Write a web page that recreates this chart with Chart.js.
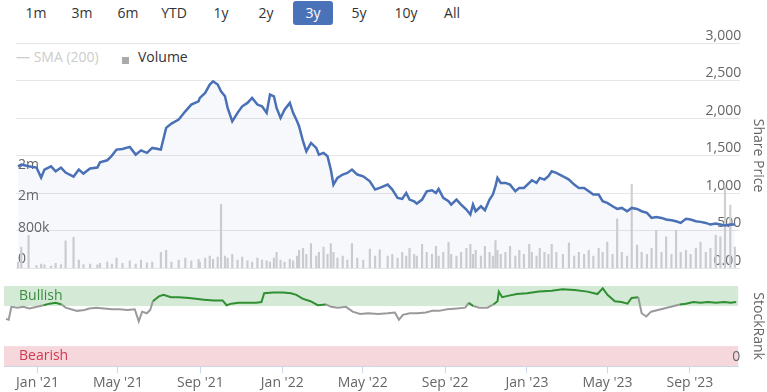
<!DOCTYPE html>
<html>
<head>
<meta charset="utf-8">
<script src="https://cdn.jsdelivr.net/npm/chart.js@4.4.0/dist/chart.umd.min.js"></script>
<style>
  body { margin:0; width:767px; height:392px; position:relative; overflow:hidden; background:#fff; font-family:'Open Sans', sans-serif; }
  .btn { position:absolute; top:1px; width:40px; height:24px; line-height:24px; text-align:center; font-size:14px; color:#333; }
  .btn.on { background:#4a72b8; color:#fff; border-radius:3px; }
  .leg { position:absolute; font-size:14px; line-height:18px; white-space:nowrap; }
  .box { position:absolute; left:0; width:767px; }
</style>
</head>
<body>
<div id="ranges"></div>
<span class="leg" style="left:16px;top:48px;color:#ccc">— SMA (200)</span>
<span class="leg" style="left:122px;top:57px;width:7px;height:7px;background:#aaa"></span>
<span class="leg" style="left:138px;top:48px;color:#333">Volume</span>
<div class="box" style="top:30px;height:250px"><canvas id="price"></canvas></div>
<div class="box" style="top:270px;height:122px"><canvas id="rank"></canvas></div>
<script>
// range selector
const ranges = ["1m", "3m", "6m", "YTD", "1y", "2y", "3y", "5y", "10y", "All"];
const rangeCenters = [36, 82, 128, 174, 221, 266, 313, 359, 406, 452];

// days counted from 1 Jan 2021
const priceDays = [-47, -42, -31, -19, -12, -7, 3, 10, 18, 25, 37, 45, 52, 62, 73, 77, 88, 95, 102, 111,
  122, 131, 139, 148, 156, 169, 177, 185, 196, 206, 215, 226, 228, 236, 243, 248, 255, 260, 266, 270,
  277, 285, 292, 300, 307, 315, 322, 329, 334, 340, 344, 350, 356, 364, 369, 375, 378, 384, 389, 396,
  404, 408, 415, 421, 426, 430, 436, 444, 451, 458, 466, 475, 485, 493, 500, 512, 519, 527, 534, 540,
  545, 552, 556, 564, 571, 579, 585, 589, 596, 604, 608, 616, 623, 631, 637, 641, 645, 653, 659, 666,
  671, 675, 678, 683, 690, 697, 705, 711, 718, 726, 730, 737, 742, 749, 755, 760, 767, 777, 786, 794,
  801, 809, 816, 823, 831, 837, 844, 852, 859, 866, 874, 881, 889, 896, 904, 911, 918, 926, 933, 941,
  948, 955, 963, 970, 978, 985, 993, 1000, 1008, 1015, 1022, 1030, 1037];
const priceValues = [1356, 1379, 1356, 1339, 1205, 1312, 1356, 1289, 1339, 1272, 1219, 1312, 1259, 1326, 1339, 1409, 1436, 1499, 1579, 1588,
  1615, 1512, 1569, 1535, 1601, 1579, 1868, 1925, 1979, 2089, 2179, 2223, 2268, 2335, 2446, 2489, 2446, 2356, 2289, 2135,
  1956, 2068, 2156, 2201, 2268, 2179, 2156, 2068, 2312, 2289, 2135, 2001, 2112, 2201, 2068, 1956, 1890, 1690, 1556, 1668,
  1601, 1512, 1535, 1490, 1312, 1112, 1201, 1246, 1268, 1312, 1246, 1223, 1156, 1046, 1068, 1112, 1046, 935, 921, 1001,
  912, 890, 859, 912, 1023, 1037, 1001, 1055, 935, 890, 846, 912, 846, 779, 712, 846, 757, 823, 770, 912,
  979, 1090, 1201, 1135, 1135, 1112, 1023, 1068, 1068, 1135, 1170, 1135, 1201, 1179, 1223, 1290, 1268, 1223, 1179, 1112,
  1068, 1068, 1023, 979, 979, 890, 868, 823, 788, 801, 757, 801, 788, 757, 735, 668, 681, 668, 646, 637,
  623, 601, 655, 646, 623, 615, 601, 579, 592, 579, 566, 579, 579];
// volume, thousands of shares
const volumeThousands = [150, 530, 830, 60, 100, 80, 50, 120, 90, 690, 780, 200, 90, 100, 80, 120, 150, 100, 250, 120,
  180, 100, 200, 130, 150, 400, 450, 150, 200, 250, 180, 220, 150, 250, 300, 220, 280, 1620, 300, 250,
  350, 200, 280, 180, 150, 250, 200, 180, 150, 250, 400, 200, 150, 220, 180, 300, 450, 500, 350, 620,
  300, 400, 530, 350, 620, 400, 250, 300, 200, 620, 250, 200, 480, 300, 460, 300, 350, 250, 400, 300,
  500, 350, 300, 600, 400, 350, 550, 300, 400, 650, 350, 300, 400, 500, 600, 350, 450, 300, 550, 400,
  300, 700, 450, 350, 400, 550, 300, 450, 350, 600, 400, 300, 500, 400, 350, 600, 400, 350, 640, 300,
  400, 350, 450, 300, 500, 400, 660, 350, 1250, 400, 300, 2130, 580, 400, 350, 500, 960, 400, 790, 350,
  960, 400, 450, 350, 500, 660, 400, 500, 840, 790, 2100, 1600, 530];

const volTicks = [0, 800000, 1600000, 2400000];
const volTickLabels = ["0", "800k", "2m", "2m"];

const rankDays = [-47, -43, -39, -30, -21, -12, -1, 9, 18, 27, 36, 42, 50, 59, 70, 77, 88, 99, 111, 122,
  134, 145, 151, 156, 163, 168, 172, 181, 188, 199, 211, 226, 236, 248, 263, 276, 282, 289, 300, 315,
  326, 334, 338, 352, 366, 378, 386, 396, 407, 418, 430, 438, 448, 460, 470, 481, 493, 508, 522, 533,
  539, 545, 555, 567, 579, 589, 599, 611, 626, 638, 643, 650, 659, 671, 680, 686, 688, 693, 703, 715,
  730, 748, 767, 783, 801, 820, 835, 843, 850, 861, 871, 880, 886, 896, 901, 908, 915, 958, 967, 978,
  989, 1000, 1012, 1024, 1034, 1042];
const rankValues = [59, 58, 74, 73, 74, 72, 74, 76, 78, 79, 77, 73, 71, 69, 70, 72, 73, 72, 71, 71,
  70, 71, 56, 68, 66, 70, 81, 87, 89, 86, 86, 85, 84, 83, 82, 82, 76, 78, 79, 79,
  79, 80, 91, 92, 92, 91, 89, 84, 81, 76, 77, 74, 73, 74, 68, 65, 66, 65, 66, 67,
  58, 64, 66, 66, 67, 69, 69, 71, 72, 73, 79, 75, 73, 73, 77, 81, 93, 86, 88, 90,
  91, 93, 94, 96, 95, 93, 90, 97, 89, 81, 80, 78, 85, 86, 66, 62, 68, 77, 78, 80,
  79, 80, 79, 80, 79, 80];

const tickDays = [0, 120, 243, 365, 485, 608, 730, 850, 973];
const tickLabels = ["Jan '21", "May '21", "Sep '21", "Jan '22", "May '22", "Sep '22", "Jan '23", "May '23", "Sep '23"];

const rangeBox = document.getElementById("ranges");
ranges.forEach((r, i) => {
    let b = document.createElement("span");
    b.className = r === "3y" ? "btn on" : "btn";
    b.style.left = (rangeCenters[i] - 20) + "px";
    b.innerHTML = r;
    rangeBox.appendChild(b);
});

Chart.defaults.font.family = "'Open Sans', sans-serif";
Chart.defaults.font.size = 14;
Chart.defaults.color = "#666";
Chart.defaults.animation = false;

const xMin = -50, xMax = 1045;
const sideTitle = (text) => ({ display: true, text: text, padding: { top: 1, bottom: 7 } });

new Chart(document.getElementById("price"), {
    type: "line",
    data: {
        datasets: [
            {
                type: "bar",
                data: priceDays.map((d, i) => ({ x: d, y: volumeThousands[i] * 1000 })),
                backgroundColor: "#d0d0d0",
                barThickness: 1.5,
                yAxisID: "yVol",
                order: 2,
            },
            {
                type: "line",
                data: priceDays.map((d, i) => ({ x: d, y: priceValues[i] })),
                borderColor: "#4a70b6",
                borderWidth: 2.5,
                pointRadius: 0,
                fill: "origin",
                backgroundColor: "rgba(74,112,182,0.05)",
                yAxisID: "y",
                order: 1,
            },
        ],
    },
    options: {
        responsive: true,
        maintainAspectRatio: false,
        layout: { padding: { top: 13, bottom: 12, left: 4, right: 0 } },
        plugins: { legend: { display: false }, tooltip: { enabled: false } },
        scales: {
            x: { type: "linear", min: xMin, max: xMax, display: false, offset: false, grid: { offset: false } },
            y: {
                position: "right",
                min: 0,
                max: 3000,
                ticks: {
                    stepSize: 500,
                    mirror: true,
                    padding: 1,
                    labelOffset: -7,
                    callback: (v) => (v === 0 ? "0.00" : v.toLocaleString("en-US")),
                },
                grid: { color: "#e6e6e6", drawTicks: false },
                border: { display: false },
                title: sideTitle("Share Price"),
            },
            yVol: {
                position: "left",
                min: 0,
                max: 5720000,
                afterBuildTicks: (axis) => {
                    axis.ticks = volTicks.map((v) => ({ value: v }));
                },
                ticks: {
                    mirror: true,
                    padding: 2,
                    labelOffset: -9,
                    callback: (v) => volTickLabels[volTicks.indexOf(v)],
                },
                grid: { display: false },
                border: { display: false },
            },
        },
    },
});

// green / red rank zones, drawn before the axes so the "0" label stays visible
const bands = {
    id: "bands",
    beforeDraw(chart) {
        const { ctx, chartArea: a } = chart;
        const s = chart.scales.yRank;
        const yTop = s.getPixelForValue(100), yBull = s.getPixelForValue(75);
        const yBear = s.getPixelForValue(25), y0 = s.getPixelForValue(0);
        ctx.save();
        ctx.fillStyle = "#d4e9d6";
        ctx.fillRect(a.left, yTop, a.width, yBull - yTop);
        ctx.fillStyle = "#f6d7dc";
        ctx.fillRect(a.left, yBear, a.width, y0 - yBear);
        ctx.font = "14px 'Open Sans', sans-serif";
        ctx.textBaseline = "middle";
        ctx.fillStyle = "#3d8b40";
        ctx.fillText("Bullish", a.left + 15, (yTop + yBull) / 2);
        ctx.fillStyle = "#d2384f";
        ctx.fillText("Bearish", a.left + 15, (yBear + y0) / 2);
        ctx.restore();
    },
};

new Chart(document.getElementById("rank"), {
    type: "line",
    data: {
        datasets: [
            {
                data: rankDays.map((d, i) => ({ x: d, y: rankValues[i] })),
                borderWidth: 2,
                pointRadius: 0,
                borderColor: "#999",
                segment: {
                    borderColor: (c) => (c.p0.parsed.y >= 75 && c.p1.parsed.y >= 75 ? "#2f8f32" : "#9a9a9a"),
                },
                yAxisID: "yRank",
            },
        ],
    },
    options: {
        responsive: true,
        maintainAspectRatio: false,
        layout: { padding: { top: 16, bottom: 0, left: 4, right: 0 } },
        plugins: { legend: { display: false }, tooltip: { enabled: false } },
        scales: {
            x: {
                type: "linear",
                min: xMin,
                max: xMax,
                afterBuildTicks: (axis) => {
                    axis.ticks = tickDays.map((v) => ({ value: v }));
                },
                ticks: {
                    autoSkip: false,
                    maxRotation: 0,
                    padding: 1,
                    callback: (v) => tickLabels[tickDays.indexOf(v)],
                },
                grid: { drawOnChartArea: false, tickLength: 7, color: "#ccd6eb" },
                border: { color: "#ccd6eb" },
            },
            yRank: {
                position: "right",
                min: 0,
                max: 100,
                afterBuildTicks: (axis) => {
                    axis.ticks = [{ value: 0 }];
                },
                ticks: { mirror: true, padding: 2, labelOffset: -9 },
                grid: { display: false, drawTicks: false },
                border: { display: false },
                title: sideTitle("StockRank"),
            },
        },
    },
    plugins: [bands],
});
</script>
</body>
</html>
